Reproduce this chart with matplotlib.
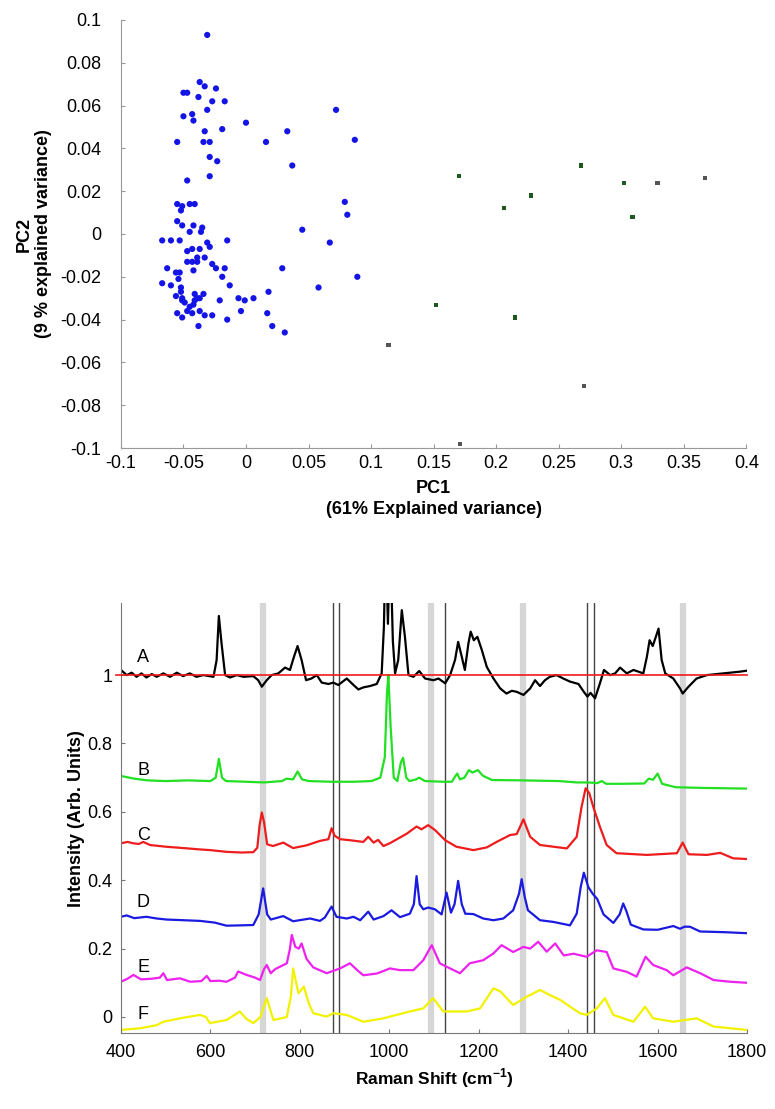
import matplotlib
matplotlib.use("Agg")
import matplotlib.pyplot as plt

plt.rcParams['font.family'] = ['Liberation Sans', 'DejaVu Sans']
plt.rcParams['mathtext.fontset'] = 'custom'
plt.rcParams['mathtext.rm'] = 'Liberation Sans'
plt.rcParams['mathtext.bf'] = 'Liberation Sans:bold'

# ---- PCA scores ----
pc1_blue = [-0.031, -0.037, -0.033, -0.024, -0.050, -0.047, -0.038, -0.027, -0.017, -0.031,
            -0.050, -0.043, -0.042, 0.000, -0.019, -0.033, -0.055, -0.034, -0.029, 0.016,
            0.033, 0.072, 0.087, -0.029, -0.023, 0.037, -0.029, -0.047, 0.079, 0.081,
            -0.055, -0.051, -0.045, -0.041, -0.052, -0.055, -0.051, -0.042, -0.035, -0.045,
            -0.036, 0.045, -0.067, -0.060, -0.053, -0.031, -0.029, -0.015, 0.067, -0.047,
            -0.043, -0.037, -0.039, -0.033, -0.047, -0.043, -0.039, -0.027, -0.063, -0.042,
            -0.024, -0.017, 0.029, -0.056, -0.053, -0.019, -0.054, 0.089, -0.067, -0.060,
            -0.052, -0.013, 0.058, -0.052, -0.056, -0.041, -0.034, 0.018, -0.051, -0.039,
            -0.051, -0.041, -0.037, -0.021, -0.006, -0.001, 0.006, -0.049, -0.042, -0.045,
            -0.055, -0.047, -0.037, -0.033, -0.027, -0.004, 0.017, -0.051, -0.043, -0.015,
            -0.038, 0.021, 0.031]
pc2_blue = [0.093, 0.071, 0.069, 0.068, 0.066, 0.066, 0.064, 0.062, 0.062, 0.058,
            0.055, 0.056, 0.053, 0.052, 0.049, 0.048, 0.043, 0.043, 0.043, 0.043,
            0.048, 0.058, 0.044, 0.036, 0.034, 0.032, 0.027, 0.025, 0.015, 0.009,
            0.014, 0.013, 0.014, 0.014, 0.011, 0.006, 0.004, 0.004, 0.003, 0.001,
            0.001, 0.002, -0.003, -0.003, -0.003, -0.004, -0.006, -0.003, -0.004, -0.008,
            -0.007, -0.007, -0.011, -0.011, -0.013, -0.013, -0.013, -0.014, -0.016, -0.017,
            -0.016, -0.016, -0.016, -0.018, -0.018, -0.020, -0.021, -0.020, -0.023, -0.024,
            -0.025, -0.024, -0.025, -0.027, -0.029, -0.028, -0.028, -0.027, -0.030, -0.030,
            -0.031, -0.031, -0.030, -0.031, -0.030, -0.031, -0.030, -0.032, -0.033, -0.034,
            -0.037, -0.036, -0.036, -0.038, -0.038, -0.036, -0.037, -0.039, -0.037, -0.040,
            -0.043, -0.043, -0.046]
pc1_green = [0.170, 0.268, 0.302, 0.228, 0.206, 0.309, 0.152, 0.215]
pc2_green = [0.027, 0.032, 0.024, 0.018, 0.012, 0.008, -0.033, -0.039]
pc1_grey = [0.329, 0.367, 0.114, 0.270, 0.171]
pc2_grey = [0.024, 0.026, -0.052, -0.071, -0.098]

# ---- Raman spectra ----
wn_a = [400, 413, 424, 435, 446, 457, 469, 480, 495, 510, 525, 539, 554, 569, 584, 607, 614, 619, 625, 633,
        644, 659, 674, 696, 707, 715, 726, 737, 752, 767, 778, 787, 795, 804, 814, 826, 838, 849, 864, 875,
        886, 905, 920, 931, 942, 957, 972, 983, 988, 992, 997, 1002, 1008, 1013, 1020, 1028, 1035, 1043, 1054, 1067,
        1080, 1099, 1110, 1125, 1136, 1147, 1154, 1162, 1169, 1177, 1182, 1189, 1197, 1207, 1218, 1233, 1248, 1262, 1274, 1285,
        1300, 1315, 1326, 1337, 1348, 1359, 1374, 1389, 1404, 1423, 1435, 1443, 1450, 1460, 1471, 1480, 1494, 1505, 1516, 1531,
        1546, 1568, 1576, 1582, 1589, 1596, 1602, 1609, 1617, 1635, 1650, 1656, 1669, 1687, 1710, 1747, 1784, 1800]
int_a = [1.015, 1.0, 1.007, 0.995, 1.005, 0.993, 1.003, 0.995, 1.005, 0.995, 1.007, 0.997, 1.005, 0.995, 1.0, 0.995, 1.044, 1.173, 1.093, 1.0,
         0.993, 1.0, 0.995, 0.997, 0.985, 0.966, 0.985, 1.0, 1.005, 1.022, 1.015, 1.054, 1.085, 1.044, 0.985, 0.99, 1.0, 0.978, 0.974, 0.978,
         0.971, 0.99, 0.971, 0.958, 0.964, 0.968, 0.974, 1.005, 1.141, 1.40, 1.15, 1.40, 1.10, 1.005, 1.044, 1.19, 1.112, 1.0, 0.995, 1.012,
         0.99, 0.985, 0.99, 0.976, 1.0, 1.044, 1.097, 1.054, 1.015, 1.093, 1.127, 1.102, 1.112, 1.073, 1.024, 0.99, 0.961, 0.946, 0.954, 0.951,
         0.942, 0.961, 0.985, 0.968, 0.985, 0.995, 1.0, 0.99, 0.981, 0.974, 0.951, 0.937, 0.948, 0.932, 0.976, 1.015, 1.0, 1.005, 1.022, 1.005,
         1.015, 1.005, 1.054, 1.102, 1.085, 1.112, 1.136, 1.044, 1.005, 0.99, 0.961, 0.946, 0.966, 0.99, 1.0, 1.005, 1.01, 1.013]

wn_b = [400, 430, 460, 500, 550, 600, 612, 619, 626, 635, 680, 720, 760, 770, 785, 795, 805, 820, 870, 920,
        960, 980, 990, 995, 998, 1003, 1010, 1018, 1026, 1031, 1038, 1045, 1060, 1067, 1080, 1120, 1140, 1148, 1152, 1158,
        1168, 1178, 1186, 1198, 1210, 1230, 1300, 1380, 1420, 1445, 1465, 1475, 1485, 1520, 1570, 1580, 1590, 1600, 1610, 1640,
        1700, 1800]
int_b = [0.705, 0.697, 0.692, 0.690, 0.692, 0.690, 0.700, 0.755, 0.700, 0.690, 0.688, 0.686, 0.690, 0.697, 0.695, 0.718, 0.695, 0.690, 0.688, 0.688,
         0.690, 0.700, 0.760, 0.950, 1.0, 0.850, 0.700, 0.690, 0.745, 0.758, 0.700, 0.690, 0.695, 0.700, 0.690, 0.688, 0.688, 0.705, 0.712, 0.695,
         0.700, 0.722, 0.715, 0.722, 0.705, 0.693, 0.692, 0.690, 0.686, 0.686, 0.684, 0.690, 0.682, 0.682, 0.683, 0.697, 0.694, 0.712, 0.682, 0.672,
         0.670, 0.668]

wn_c = [400, 415, 428, 440, 450, 465, 500, 540, 577, 600, 636, 670, 696, 705, 710, 715, 720, 727, 740, 763,
        785, 815, 845, 864, 871, 878, 890, 912, 942, 953, 965, 975, 987, 1001, 1039, 1061, 1072, 1087, 1102, 1125,
        1150, 1188, 1218, 1240, 1270, 1285, 1300, 1315, 1337, 1367, 1397, 1419, 1430, 1439, 1447, 1456, 1471, 1486, 1508, 1576,
        1643, 1656, 1669, 1710, 1740, 1769, 1800]
int_c = [0.508, 0.512, 0.508, 0.506, 0.512, 0.503, 0.498, 0.494, 0.490, 0.488, 0.483, 0.481, 0.482, 0.495, 0.56, 0.598, 0.57, 0.505, 0.500, 0.510,
         0.494, 0.502, 0.515, 0.520, 0.552, 0.53, 0.52, 0.517, 0.512, 0.527, 0.51, 0.518, 0.500, 0.508, 0.536, 0.557, 0.549, 0.561, 0.547, 0.517,
         0.498, 0.488, 0.496, 0.512, 0.532, 0.535, 0.578, 0.527, 0.503, 0.498, 0.493, 0.527, 0.615, 0.669, 0.655, 0.615, 0.556, 0.503, 0.479, 0.474,
         0.479, 0.510, 0.476, 0.474, 0.48, 0.464, 0.462]

wn_d = [400, 413, 430, 457, 480, 502, 540, 577, 610, 636, 670, 696, 708, 718, 727, 735, 763, 785, 823, 845,
        856, 871, 882, 905, 920, 935, 953, 965, 987, 1005, 1024, 1046, 1055, 1061, 1068, 1076, 1087, 1102, 1117, 1128,
        1138, 1146, 1154, 1162, 1170, 1188, 1210, 1233, 1255, 1277, 1290, 1296, 1303, 1310, 1337, 1367, 1404, 1419, 1428, 1435,
        1445, 1455, 1465, 1479, 1501, 1515, 1523, 1530, 1540, 1568, 1600, 1635, 1650, 1660, 1672, 1695, 1750, 1800]
int_d = [0.293, 0.297, 0.289, 0.293, 0.288, 0.285, 0.283, 0.281, 0.276, 0.267, 0.268, 0.269, 0.300, 0.376, 0.300, 0.285, 0.295, 0.280, 0.288, 0.281,
         0.291, 0.323, 0.293, 0.288, 0.293, 0.283, 0.308, 0.285, 0.295, 0.312, 0.292, 0.302, 0.33, 0.412, 0.33, 0.315, 0.32, 0.315, 0.300, 0.364,
         0.305, 0.33, 0.398, 0.33, 0.302, 0.301, 0.288, 0.283, 0.288, 0.312, 0.36, 0.403, 0.35, 0.312, 0.283, 0.278, 0.268, 0.302, 0.38, 0.422,
         0.38, 0.36, 0.345, 0.30, 0.275, 0.30, 0.332, 0.31, 0.27, 0.256, 0.255, 0.266, 0.258, 0.264, 0.264, 0.25, 0.248, 0.245]

wn_e = [400, 415, 428, 445, 470, 487, 495, 503, 532, 555, 580, 592, 600, 620, 636, 655, 662, 681, 700, 711,
        720, 726, 735, 745, 771, 778, 782, 790, 798, 804, 815, 830, 860, 890, 912, 930, 942, 972, 994, 1001,
        1024, 1054, 1076, 1095, 1113, 1128, 1158, 1180, 1210, 1233, 1251, 1277, 1300, 1315, 1333, 1352, 1371, 1390, 1412, 1441,
        1464, 1486, 1501, 1531, 1553, 1573, 1590, 1620, 1635, 1665, 1695, 1725, 1762, 1800]
int_e = [0.103, 0.112, 0.123, 0.11, 0.112, 0.115, 0.128, 0.108, 0.113, 0.103, 0.105, 0.120, 0.105, 0.106, 0.103, 0.115, 0.133, 0.123, 0.115, 0.108,
         0.14, 0.152, 0.128, 0.14, 0.157, 0.20, 0.24, 0.205, 0.2, 0.215, 0.17, 0.145, 0.128, 0.142, 0.157, 0.135, 0.122, 0.127, 0.138, 0.142,
         0.137, 0.137, 0.166, 0.210, 0.157, 0.147, 0.128, 0.157, 0.166, 0.186, 0.21, 0.19, 0.205, 0.2, 0.22, 0.191, 0.215, 0.18, 0.185, 0.176,
         0.195, 0.19, 0.142, 0.132, 0.118, 0.176, 0.152, 0.137, 0.122, 0.145, 0.128, 0.108, 0.103, 0.1]

wn_f = [400, 443, 480, 495, 532, 577, 590, 599, 636, 666, 680, 696, 712, 726, 741, 771, 780, 785, 797, 809,
        820, 830, 860, 875, 905, 942, 987, 1001, 1046, 1076, 1098, 1121, 1173, 1203, 1233, 1248, 1277, 1307, 1337, 1359,
        1382, 1426, 1441, 1464, 1482, 1501, 1546, 1572, 1590, 1635, 1687, 1725, 1800]
int_f = [-0.038, -0.033, -0.024, -0.014, -0.004, 0.006, 0.0, -0.018, -0.009, 0.016, -0.005, -0.018, 0.0, 0.055, -0.009, 0.0, 0.06, 0.142, 0.069, 0.089,
         0.04, 0.011, 0.001, 0.011, 0.006, -0.014, -0.004, 0.001, 0.016, 0.025, 0.055, 0.016, 0.016, 0.025, 0.084, 0.075, 0.035, 0.059, 0.079, 0.064,
         0.05, 0.011, 0.006, 0.025, 0.055, 0.006, -0.014, 0.03, -0.004, -0.014, -0.004, -0.028, -0.038]

spectra = [(wn_a, int_a, 'black'), (wn_b, int_b, '#22e022'), (wn_c, int_c, '#ee1c1c'),
           (wn_d, int_d, '#1a1ae0'), (wn_e, int_e, '#ee22ee'), (wn_f, int_f, '#f2f200')]
letters = ['A', 'B', 'C', 'D', 'E', 'F']
letter_y = [1.05, 0.72, 0.53, 0.336, 0.146, 0.006]
grey_bands = [717, 1093, 1299, 1657]
black_marks = [875, 888, 1125, 1441, 1458]

fig = plt.figure(figsize=(7.75, 11.09), dpi=100)

# ---- top: scatter of PCA scores ----
ax1 = fig.add_axes([0.156, 0.596, 0.807, 0.386])
ax1.scatter(pc1_blue, pc2_blue, s=20, color='#1414e6', edgecolors='none', zorder=3)
ax1.scatter(pc1_green, pc2_green, s=9, marker='s', color='#1e5a1e', edgecolors='none', zorder=3)
ax1.scatter(pc1_grey, pc2_grey, s=9, marker='s', color='#555555', edgecolors='none', zorder=3)
ax1.set_xlim(-0.1, 0.4)
ax1.set_ylim(-0.1, 0.1)
ax1.set_xticks([-0.1, -0.05, 0, 0.05, 0.1, 0.15, 0.2, 0.25, 0.3, 0.35, 0.4])
ax1.set_xticklabels(['-0.1', '-0.05', '0', '0.05', '0.1', '0.15', '0.2', '0.25', '0.3', '0.35', '0.4'])
ax1.set_yticks([-0.1, -0.08, -0.06, -0.04, -0.02, 0, 0.02, 0.04, 0.06, 0.08, 0.1])
ax1.set_yticklabels(['-0.1', '-0.08', '-0.06', '-0.04', '-0.02', '0', '0.02', '0.04', '0.06', '0.08', '0.1'])
ax1.tick_params(axis='y', direction='in', length=3, pad=14, labelsize=13, color='#999999')
ax1.tick_params(axis='x', direction='in', length=3, pad=5, labelsize=13, color='#999999')
ax1.set_xlabel('PC1\n(61% Explained variance)', fontsize=13, fontweight='bold', labelpad=6, linespacing=1.25)
ax1.set_ylabel('PC2\n(9 % explained variance)', fontsize=13, fontweight='bold', labelpad=6, linespacing=1.2)
for side in ['top', 'right']:
    ax1.spines[side].set_visible(False)
for side in ['left', 'bottom']:
    ax1.spines[side].set_color('#999999')

# ---- bottom: Raman spectra ----
ax2 = fig.add_axes([0.156, 0.0685, 0.808, 0.3875])
for xb in grey_bands:
    ax2.axvline(xb, color='#d6d6d6', lw=4.5, zorder=0)
for xb in black_marks:
    ax2.axvline(xb, color='#444444', lw=1, zorder=1)
ax2.plot([388, 1800], [1, 1], color='#ee1c1c', lw=1.2, zorder=3, clip_on=False)
for (wn, inten, col) in spectra:
    ax2.plot(wn, inten, color=col, lw=1.6, zorder=2)
for lab, ly in zip(letters, letter_y):
    ax2.text(450, ly, lab, fontsize=13, ha='center', va='center', zorder=4)
ax2.set_xlim(400, 1800)
ax2.set_ylim(-0.047, 1.21)
ax2.set_xticks([400, 600, 800, 1000, 1200, 1400, 1600, 1800])
ax2.set_yticks([0, 0.2, 0.4, 0.6, 0.8, 1])
ax2.set_yticklabels(['0', '0.2', '0.4', '0.6', '0.8', '1'])
ax2.tick_params(axis='y', direction='in', length=3, pad=6, labelsize=13, color='#777777')
ax2.tick_params(axis='x', direction='in', length=3, pad=8, labelsize=13, color='#777777')
ax2.set_xlabel(r'Raman Shift (cm$^{\mathbf{-1}}$)', fontsize=12.5, fontweight='bold', labelpad=4)
ax2.set_ylabel('Intensity (Arb. Units)', fontsize=13, fontweight='bold', labelpad=2)
for side in ['top', 'right']:
    ax2.spines[side].set_visible(False)
for side in ['left', 'bottom']:
    ax2.spines[side].set_color('#777777')

fig.savefig('out.png', dpi=100)
